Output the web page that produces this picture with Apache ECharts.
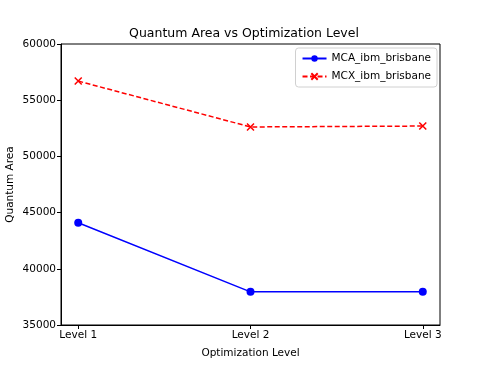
<!DOCTYPE html>
<html>
<head>
<meta charset="utf-8">
<script src="https://cdn.jsdelivr.net/npm/echarts@6/dist/echarts.min.js"></script>
<style>
  html, body { margin: 0; padding: 0; background: #fff; }
  #chart { width: 488px; height: 366px; }
</style>
</head>
<body>
<div id="chart"></div>
<script>
var levels = ['Level 1', 'Level 2', 'Level 3'];
var levelPos = [1, 2, 3];
var mcaValues = [44100, 37950, 37950];
var mcxValues = [56700, 52620, 52700];
var yTicks = [35000, 40000, 45000, 50000, 55000, 60000];

var font = 'DejaVu Sans';
var chart = echarts.init(document.getElementById('chart'), null, { renderer: 'canvas' });

function pairs(vals) {
  return vals.map(function(v, i) { return [levelPos[i], v]; });
}

chart.setOption({
  animation: false,
  textStyle: { fontFamily: font },
  title: {
    text: 'Quantum Area vs Optimization Level',
    left: 'center',
    top: 22,
    textStyle: { fontFamily: font, fontSize: 12.5, fontWeight: 'normal', color: '#000' }
  },
  grid: {
    left: 61, right: 48, top: 44, bottom: 41,
    outerBoundsMode: 'none',
    containLabel: false,
    show: true, borderColor: '#000', borderWidth: 1
  },
  legend: {
    orient: 'vertical',
    right: 51, top: 48,
    itemWidth: 24, itemHeight: 8, itemGap: 7,
    padding: [5, 6, 5, 6],
    borderColor: '#d0d0d0', borderWidth: 1, borderRadius: 3,
    backgroundColor: '#fff',
    textStyle: { fontFamily: font, fontSize: 10.5, color: '#000' },
    data: ['MCA_ibm_brisbane', 'MCX_ibm_brisbane']
  },
  xAxis: {
    type: 'value',
    min: 0.9, max: 3.1,
    name: 'Optimization Level',
    nameLocation: 'middle',
    nameGap: 23,
    nameMoveOverlap: false,
    nameTextStyle: { fontFamily: font, fontSize: 10.5, color: '#000' },
    axisLine: { lineStyle: { color: '#000', width: 1 } },
    axisTick: { show: true, inside: false, length: 4, lineStyle: { color: '#000' }, customValues: levelPos },
    axisLabel: {
      fontFamily: font, fontSize: 10.5, color: '#000', margin: 5,
      customValues: levelPos,
      formatter: function(v) { return levels[Math.round(v) - 1]; }
    },
    splitLine: { show: false }
  },
  yAxis: {
    type: 'value',
    min: 35000, max: 60000, interval: 5000,
    name: 'Quantum Area',
    nameLocation: 'middle',
    nameGap: 45,
    nameMoveOverlap: false,
    nameTextStyle: { fontFamily: font, fontSize: 10.5, color: '#000' },
    axisLine: { show: true, lineStyle: { color: '#000', width: 1 } },
    axisTick: { show: true, inside: false, length: 4, lineStyle: { color: '#000' } },
    axisLabel: {
      fontFamily: font, fontSize: 10.5, color: '#000', margin: 5,
      formatter: function(v) { return yTicks.indexOf(v) >= 0 ? String(v) : ''; }
    },
    splitLine: { show: false }
  },
  series: [
    {
      name: 'MCA_ibm_brisbane',
      type: 'line',
      data: pairs(mcaValues),
      symbol: 'circle',
      symbolSize: 8,
      itemStyle: { color: '#0000ff' },
      lineStyle: { color: '#0000ff', width: 1.5 }
    },
    {
      name: 'MCX_ibm_brisbane',
      type: 'line',
      data: pairs(mcxValues),
      symbol: 'path://M-1,-1L1,1M1,-1L-1,1',
      symbolSize: 7,
      itemStyle: { color: '#ff0000', borderColor: '#ff0000', borderWidth: 1.5 },
      lineStyle: { color: '#ff0000', width: 1.5, type: [5, 2.5] }
    }
  ]
});

window.addEventListener('resize', function() { chart.resize(); });
</script>
</body>
</html>
